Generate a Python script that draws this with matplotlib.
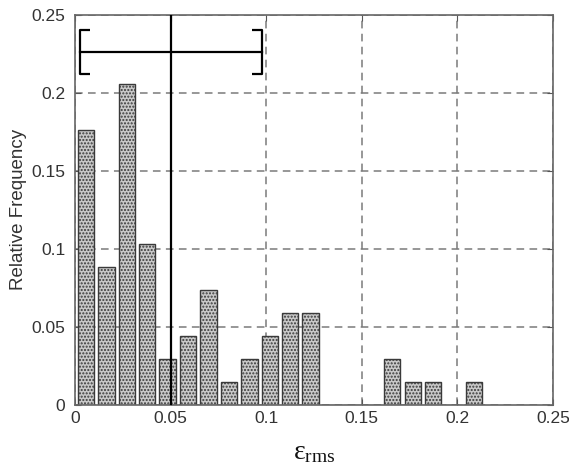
import numpy as np
import matplotlib
matplotlib.use("Agg")
import matplotlib.pyplot as plt
from matplotlib.path import Path

# ---- data ----
counts = [12, 6, 14, 7, 2, 3, 5, 1, 2, 3, 4, 4, 0, 0, 0, 2, 1, 1, 0, 1]
n_total = 68
data_min = 0.0004
data_max = 0.2140
n_bins = 20
mean_err = 0.0501      # vertical line / centre of the range bar
half_range = 0.0477    # half-width of the range bar
range_y = 0.2264       # height of the range bar

x_ticks = [0, 0.05, 0.1, 0.15, 0.2, 0.25]
x_ticklabels = ["0", "0.05", "0.1", "0.15", "0.2", "0.25"]
y_ticks = [0, 0.05, 0.1, 0.15, 0.2, 0.25]
y_ticklabels = ["0", "0.05", "0.1", "0.15", "0.2", "0.25"]

rel_freq = np.array(counts) / n_total
bin_w = (data_max - data_min) / n_bins
centers = data_min + bin_w * (np.arange(n_bins) + 0.5)

plt.rcParams['font.family'] = ['Liberation Sans', 'DejaVu Sans']
plt.rcParams['mathtext.fontset'] = 'custom'
plt.rcParams['mathtext.rm'] = 'Liberation Serif'
plt.rcParams['mathtext.it'] = 'Liberation Serif:italic'
plt.rcParams['hatch.color'] = '#858585'
plt.rcParams['hatch.linewidth'] = 1.0

fig = plt.figure(figsize=(5.69, 4.72), dpi=100)
ax = fig.add_axes([0.1318, 0.143, 0.8401, 0.825])

ax.set_axisbelow(True)
ax.grid(True, color='#7a7a7a', linestyle=(0, (5, 3.5)), linewidth=1.1)

ax.bar(centers, rel_freq, width=0.8 * bin_w, facecolor='#c9c9c9',
       edgecolor='#3a3a3a', linewidth=1.0, hatch='.....', zorder=2)

# vertical line at the mean
ax.axvline(mean_err, color='black', linewidth=1.6, zorder=4)

# horizontal range bar with bracket ends
ax.plot([mean_err - half_range, mean_err + half_range], [range_y, range_y],
        color='black', linewidth=1.6, zorder=4)
left_br = Path([(0.47, 1), (0, 1), (0, -1), (0.47, -1)],
               [Path.MOVETO, Path.LINETO, Path.LINETO, Path.LINETO])
right_br = Path([(-0.47, 1), (0, 1), (0, -1), (-0.47, -1)],
                [Path.MOVETO, Path.LINETO, Path.LINETO, Path.LINETO])
ax.plot([mean_err - half_range], [range_y], marker=left_br, markersize=31,
        markerfacecolor='none', markeredgecolor='black', markeredgewidth=1.6,
        linestyle='none', zorder=4)
ax.plot([mean_err + half_range], [range_y], marker=right_br, markersize=31,
        markerfacecolor='none', markeredgecolor='black', markeredgewidth=1.6,
        linestyle='none', zorder=4)

ax.set_xlim(0, 0.25)
ax.set_ylim(0, 0.25)
ax.set_xticks(x_ticks)
ax.set_xticklabels(x_ticklabels)
ax.set_yticks(y_ticks)
ax.set_yticklabels(y_ticklabels)
ax.tick_params(direction='in', length=4, width=0.8, colors='#555555',
               labelcolor='#333333', labelsize=12.5, top=True, right=True)
ax.tick_params(axis='x', pad=5)
ax.tick_params(axis='y', pad=7)
for s in ax.spines.values():
    s.set_color('#666666')
    s.set_linewidth(1.2)

ax.set_ylabel('Relative Frequency', fontsize=13.5, color='#333333', labelpad=3)
ax.set_xlabel(r'$\mathrm{\varepsilon_{rms}}$', fontsize=20, color='#111111', labelpad=9)

fig.savefig('out.png', dpi=100)
